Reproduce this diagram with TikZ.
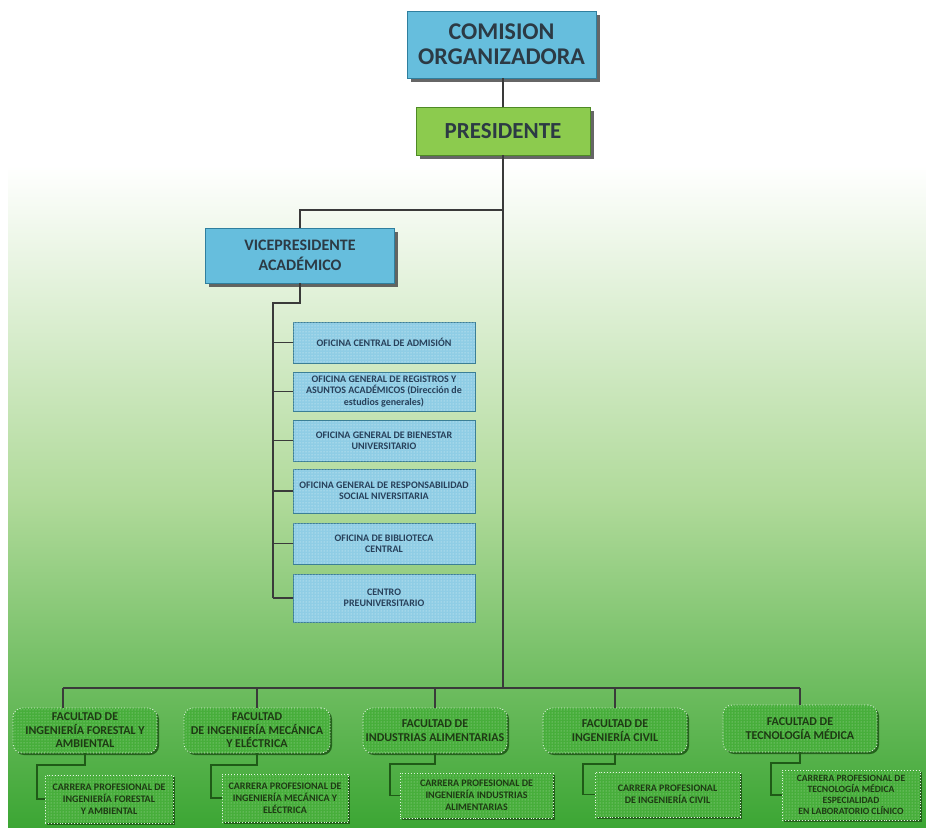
\documentclass[tikz,border=0pt]{standalone}
\usepackage{fontspec}
\setmainfont{Carlito}
\usetikzlibrary{shadows,patterns}
\definecolor{topblue}{HTML}{66BEDD}
\definecolor{topbluedk}{HTML}{2F7F9E}
\definecolor{presgreen}{HTML}{8CCB4E}
\definecolor{presgreendk}{HTML}{4E8A25}
\definecolor{offblue}{HTML}{8FCDE5}
\definecolor{offbluedk}{HTML}{3B7F96}
\definecolor{txtdark}{HTML}{2C3A44}
\definecolor{txtnavy}{HTML}{27405A}
\definecolor{boxgreen}{HTML}{47AE3B}
\definecolor{boxgreendk}{HTML}{1F5A17}
\definecolor{txtgreen}{HTML}{1E3A14}
\definecolor{bgmid}{HTML}{B0DA9A}
\definecolor{bgbot}{HTML}{3CA634}
\definecolor{linegray}{HTML}{3A3A3A}
\tikzset{
  topbox/.style={draw=topbluedk, line width=0.8pt, fill=topblue, text=txtdark, align=center,
    font=\bfseries, inner sep=2pt,
    drop shadow={shadow xshift=3.5pt, shadow yshift=-3.5pt, fill=black!70, opacity=0.85}},
  presbox/.style={topbox, draw=presgreendk, fill=presgreen},
  offbox/.style={draw=offbluedk, line width=0.8pt, fill=offblue, text=txtnavy, align=center,
    font=\fontsize{10}{11.3}\selectfont\bfseries, minimum width=182pt, inner sep=0pt,
    postaction={pattern=dots, pattern color=white!80!offblue}},
  facbox/.style={draw=white!85!boxgreen, dotted, line width=0.9pt, fill=boxgreen, rounded corners=9pt,
    text=txtgreen, align=center, font=\fontsize{12}{13.5}\selectfont\bfseries, inner sep=0pt,
    drop shadow={shadow xshift=2pt, shadow yshift=-2pt, fill=boxgreendk, opacity=0.9},
    postaction={pattern=dots, pattern color=white!60!boxgreen}},
  carbox/.style={facbox, rounded corners=0pt, font=\fontsize{10}{12}\selectfont\bfseries},
  conn/.style={draw=linegray, line width=1.3pt},
  gconn/.style={draw=boxgreendk, line width=1.3pt}
}
\begin{document}
\begin{tikzpicture}[x=1pt,y=-1pt]
\useasboundingbox (0,0) rectangle (926,827);
\fill[white] (0,0) rectangle (926,827);
\shade[top color=white, bottom color=bgmid] (8,165) rectangle (926,500);
\shade[top color=bgmid, bottom color=bgbot] (8,499.5) rectangle (926,827);

% top boxes
\node[topbox, minimum width=189pt, minimum height=67pt, font=\fontsize{24}{25}\selectfont\bfseries]
  (com) at (501.5,44.5) {COMISION\\ORGANIZADORA};
\node[presbox, minimum width=174pt, minimum height=48pt, font=\fontsize{23}{25}\selectfont\bfseries]
  (pres) at (503,131) {PRESIDENTE};
\node[topbox, minimum width=189pt, minimum height=55pt, font=\fontsize{16}{20}\selectfont\bfseries]
  (vice) at (300,255.5) {VICEPRESIDENTE\\ACADÉMICO};

% offices
\node[offbox, minimum height=41pt] (o1) at (384,342.5) {OFICINA CENTRAL DE ADMISIÓN};
\node[offbox, minimum height=39pt] (o2) at (384,391.5) {OFICINA GENERAL DE REGISTROS Y\\ASUNTOS ACADÉMICOS (Dirección de\\estudios generales)};
\node[offbox, minimum height=41pt] (o3) at (384,440.5) {OFICINA GENERAL DE BIENESTAR\\UNIVERSITARIO};
\node[offbox, minimum height=44pt] (o4) at (384,491) {OFICINA GENERAL DE RESPONSABILIDAD\\SOCIAL NIVERSITARIA};
\node[offbox, minimum height=41pt] (o5) at (384,543.5) {OFICINA DE BIBLIOTECA\\CENTRAL};
\node[offbox, minimum height=48pt] (o6) at (384,598) {CENTRO\\PREUNIVERSITARIO};

% facultades
\node[facbox, minimum width=144pt, minimum height=45pt] (f1) at (85,730.5) {FACULTAD DE\\INGENIERÍA FORESTAL Y\\AMBIENTAL};
\node[facbox, minimum width=146pt, minimum height=45pt] (f2) at (257,730.5) {FACULTAD\\DE INGENIERÍA MECÁNICA\\Y ELÉCTRICA};
\node[facbox, minimum width=144pt, minimum height=45pt] (f3) at (435,730.5) {FACULTAD DE\\INDUSTRIAS ALIMENTARIAS};
\node[facbox, minimum width=144pt, minimum height=45pt] (f4) at (615,730.5) {FACULTAD DE\\INGENIERÍA CIVIL};
\node[facbox, minimum width=154pt, minimum height=47pt] (f5) at (800,728.5) {FACULTAD DE\\TECNOLOGÍA MÉDICA};

% carreras
\node[carbox, minimum width=128pt, minimum height=48pt] (c1) at (109,799) {CARRERA PROFESIONAL DE\\INGENIERÍA FORESTAL\\Y AMBIENTAL};
\node[carbox, minimum width=126pt, minimum height=48pt] (c2) at (285,798) {CARRERA PROFESIONAL DE\\INGENIERÍA MECÁNICA Y\\ELÉCTRICA};
\node[carbox, minimum width=153pt, minimum height=45pt] (c3) at (476.5,795.5) {CARRERA PROFESIONAL DE\\INGENIERÍA INDUSTRIAS\\ALIMENTARIAS};
\node[carbox, minimum width=145pt, minimum height=45pt] (c4) at (667.5,794.5) {CARRERA PROFESIONAL\\DE INGENIERÍA CIVIL};
\node[carbox, minimum width=138pt, minimum height=50pt, font=\fontsize{9.6}{11.2}\selectfont\bfseries] (c5) at (851,795) {CARRERA PROFESIONAL DE\\TECNOLOGÍA MÉDICA\\ESPECIALIDAD\\EN LABORATORIO CLÍNICO};

% connectors
\coordinate (vj) at (503,210);
\coordinate (vb) at (273,303);
\coordinate (busL) at (63,688);
\coordinate (busR) at (800,688);
\draw[conn] (pres.north |- com.south) -- (pres.north);
\draw[conn] (pres.south) -- (pres.south |- busL);
\draw[conn] (vj) -- (vj -| vice.north) -- (vice.north);
\draw[conn] (vice.south) -- (vice.south |- vb) -- (vb) -- (vb |- o6.west);
\foreach \o in {o1,o2,o3,o4,o5,o6}{\draw[conn] (vb |- \o.west) -- (\o.west);}
\draw[conn] (busL) -- (busR);
\draw[conn] (busL) -- (busL |- f1.north);
\foreach \f in {f2,f3,f4,f5}{\draw[conn] (busL -| \f.north) -- (\f.north);}
\draw[gconn] (f1.south) |- (37,765) |- (c1.west);
\draw[gconn] (f2.south) |- (211,765) |- (c2.west);
\draw[gconn] (f3.south) |- (390,764) |- (c3.west);
\draw[gconn] (f4.south) |- (583,764) |- (c4.west);
\draw[gconn] (f5.south) |- (771,763) |- (c5.west);
\end{tikzpicture}
\end{document}
